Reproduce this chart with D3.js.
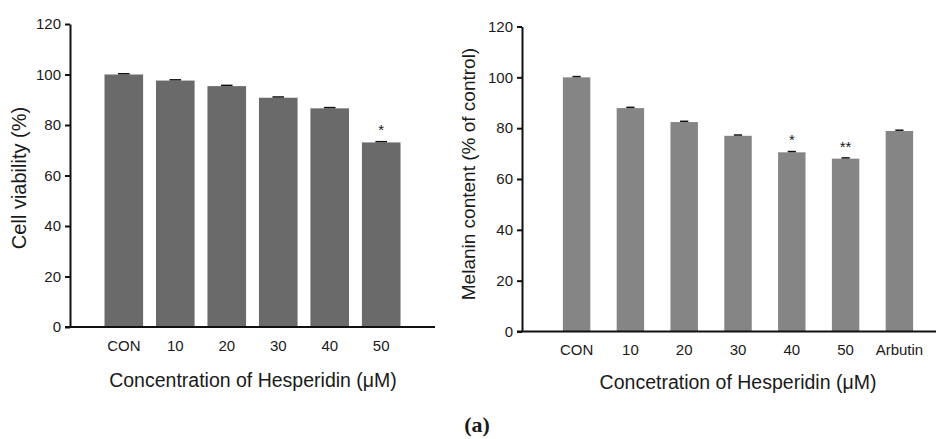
<!DOCTYPE html>
<html>
<head>
<meta charset="utf-8">
<script src="https://cdn.jsdelivr.net/npm/d3@7"></script>
<style>
    body { margin: 0; background: #fff; }
    svg { display: block; }
    text { font-family: "Liberation Sans", Arial, sans-serif; fill: #1a1a1a; }
    .axis path, .axis line { stroke: #111; stroke-width: 2; }
</style>
</head>
<body>
<div id="chart"></div>
<script>

// values
var yTicks = [0, 20, 40, 60, 80, 100, 120];

var viabilityLabels = ['CON', '10', '20', '30', '40', '50'];
var viabilityValues = [100, 97.6, 95.4, 90.8, 86.6, 73.1];
var viabilityErrors = [0.3, 0.3, 0.3, 0.3, 0.3, 0.3];
var viabilityMarks = ['', '', '', '', '', '*'];

var melaninLabels = ['CON', '10', '20', '30', '40', '50', 'Arbutin'];
var melaninValues = [100, 87.9, 82.4, 77.0, 70.5, 68.0, 78.9];
var melaninErrors = [0.3, 0.3, 0.3, 0.3, 0.3, 0.3, 0.3];
var melaninMarks = ['', '', '', '', '*', '**', ''];

var width = 936;
var height = 439;

var svg = d3.select('#chart')
    .append('svg')
    .attr('width', width)
    .attr('height', height);

function drawPanel(opts) {

    var x = d3.scaleBand()
        .domain(opts.labels)
        .range(opts.xRange)
        .paddingInner(opts.padInner)
        .paddingOuter(opts.padOuter);

    var y = d3.scaleLinear()
        .domain([0, 120])
        .range(opts.yRange);

    var g = svg.append('g');

    var rows = opts.labels.map(function(d, i) {
        return { label: d, value: opts.values[i], err: opts.errors[i], mark: opts.marks[i] };
    });

    g.selectAll('rect.bar')
        .data(rows)
        .enter()
        .append('rect')
        .attr('class', 'bar')
        .attr('x', d => x(d.label))
        .attr('y', d => y(d.value))
        .attr('width', x.bandwidth())
        .attr('height', d => y(0) - y(d.value))
        .style('fill', opts.color);

    // tiny error caps
    var cap = x.bandwidth() * 0.3;
    g.selectAll('line.err')
        .data(rows)
        .enter()
        .append('line')
        .attr('x1', d => x(d.label) + x.bandwidth() / 2 - cap / 2)
        .attr('x2', d => x(d.label) + x.bandwidth() / 2 + cap / 2)
        .attr('y1', d => y(d.value + d.err))
        .attr('y2', d => y(d.value + d.err))
        .style('stroke', '#111')
        .style('stroke-width', 1.5);

    g.selectAll('text.mark')
        .data(rows.filter(d => d.mark))
        .enter()
        .append('text')
        .attr('x', d => x(d.label) + x.bandwidth() / 2)
        .attr('y', d => y(d.value) - 7)
        .attr('text-anchor', 'middle')
        .style('font-size', '15px')
        .text(d => d.mark);

    var yAxis = g.append('g')
        .attr('class', 'axis')
        .attr('transform', 'translate(' + opts.xRange[0] + ',0)')
        .call(d3.axisLeft(y).tickValues(yTicks).tickSize(5).tickSizeOuter(0).tickPadding(4));
    yAxis.selectAll('text').style('font-size', '15px');

    var xAxis = g.append('g')
        .attr('class', 'axis')
        .attr('transform', 'translate(0,' + y(0) + ')')
        .call(d3.axisBottom(x).tickSize(0).tickSizeOuter(0).tickPadding(13));
    xAxis.select('.domain').attr('d', 'M' + (opts.xRange[0] - 5) + ',0H' + opts.axisEnd);
    xAxis.selectAll('text').style('font-size', '15px');

    g.append('text')
        .attr('x', opts.xTitle[0])
        .attr('y', opts.xTitle[1])
        .attr('text-anchor', 'middle')
        .style('font-size', '19.5px')
        .text(opts.xLabel);

    g.append('text')
        .attr('transform', 'translate(' + opts.yTitle[0] + ',' + opts.yTitle[1] + ') rotate(-90)')
        .attr('text-anchor', 'middle')
        .style('font-size', opts.yFont)
        .text(opts.yLabel);
}

drawPanel({
    labels: viabilityLabels,
    values: viabilityValues,
    errors: viabilityErrors,
    marks: viabilityMarks,
    color: '#6a6a6a',
    xRange: [70, 435],
    axisEnd: 435,
    yRange: [327, 24],
    padInner: 0.25,
    padOuter: 0.67,
    xLabel: 'Concentration of Hesperidin (\u03bcM)',
    xTitle: [253, 387],
    yLabel: 'Cell viability (%)',
    yTitle: [26, 178],
    yFont: '20px'
});

drawPanel({
    labels: melaninLabels,
    values: melaninValues,
    errors: melaninErrors,
    marks: melaninMarks,
    color: '#858585',
    xRange: [522, 954],
    axisEnd: 936,
    yRange: [331.5, 26.5],
    padInner: 0.49,
    padOuter: 0.76,
    xLabel: 'Concetration of Hesperidin (\u03bcM)',
    xTitle: [738, 389],
    yLabel: 'Melanin content (% of control)',
    yTitle: [475, 174],
    yFont: '19px'
});

svg.append('text')
    .attr('x', 477)
    .attr('y', 432)
    .attr('text-anchor', 'middle')
    .style('font-family', '"Liberation Serif", "Times New Roman", serif')
    .style('font-weight', 'bold')
    .style('font-size', '22px')
    .text('(a)');

</script>
</body>
</html>
